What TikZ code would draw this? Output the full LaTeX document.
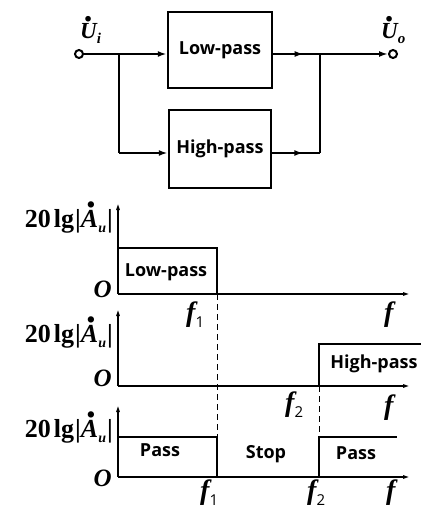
\documentclass[tikz,border=0pt]{standalone}
\usepackage{amsmath}
\usepackage{fontspec}
\setmainfont{Liberation Serif}
\newfontfamily\boxfont{Open Sans}
\usetikzlibrary{arrows.meta,decorations.markings}
% letter with a heavy dot above
\newcommand\dt[3][0pt]{\leavevmode\vbox{\offinterlineskip\halign{\hfil##\hfil\cr\kern#1\scalebox{1.5}{\bfseries .}\cr\noalign{\kern#2}#3\cr}}}
\newcommand\subsf[1]{\raisebox{-0.22em}{\boxfont\upshape\mdseries\fontsize{15}{15}\selectfont #1}}
\newcommand\ylab{{\bfseries 20\kern3pt lg\kern1pt|}\dt[3pt]{2pt}{\bfseries\itshape A}\raisebox{-0.2em}{\bfseries\itshape\fontsize{14}{14}\selectfont u}\kern1pt{\bfseries|}}
\begin{document}
\begin{tikzpicture}[x=1pt,y=-1pt,
  blk/.style={draw,line width=2.5pt,inner sep=0,font=\boxfont\bfseries\fontsize{18}{20}\selectfont},
  term/.style={circle,draw,line width=2pt,minimum size=8pt,inner sep=0,fill=white},
  wire/.style={line width=2.5pt},
  tip/.style={-{Latex[length=9pt,width=6pt]}},
  midarr/.style={postaction={decorate},decoration={markings,mark=at position #1 with {\arrow{Latex[length=9pt,width=6pt]}}}},
  lbl/.style={font=\boxfont\bfseries\fontsize{18}{20}\selectfont,inner sep=0},
  ulab/.style={font=\bfseries\itshape\fontsize{23}{24}\selectfont,inner sep=0,anchor=base west},
  flab/.style={font=\bfseries\itshape\fontsize{28}{30}\selectfont,inner sep=0,anchor=base west},
  olab/.style={font=\bfseries\itshape\fontsize{25}{26}\selectfont,inner sep=0,anchor=base east},
  ylabel/.style={font=\fontsize{26}{27}\selectfont,inner sep=0,anchor=base east},
  axis/.style={line width=2pt},
  axtip/.style={-{Latex[length=8pt,width=4pt]}},
  curve/.style={line width=2.8pt},
  dashline/.style={line width=1pt,dash pattern=on 6pt off 4pt}
]
\useasboundingbox (0,0) rectangle (421,508);
% ---- block diagram ----
\node[term] (ui) at (79,54) {};
\node[term] (uo) at (393,54) {};
\node[blk,minimum width=104pt,minimum height=76pt] (lp) at (220,50) {Low-pass};
\node[blk,minimum width=102pt,minimum height=78pt] (hp) at (220,149) {High-pass};
\coordinate (jl) at (119,54);
\coordinate (jr) at (320,54);
\coordinate (hj) at (320,153);
\coordinate (hjl) at (119,153);
\node[ulab] (uil) at (80,39) {\dt[2pt]{2pt}{U}\raisebox{-0.2em}{\fontsize{15}{15}\selectfont i}};
\node[ulab] (uol) at (381,39) {\dt[2pt]{2pt}{U}\raisebox{-0.2em}{\fontsize{15}{15}\selectfont o}};
\draw[wire] (ui) -- (jl);
\draw[wire,tip] (jl) -- (lp.west |- jl);
\draw[wire] (jl) -- (hjl);
\draw[wire,tip] (hjl) -- (hp.west |- hjl);
\draw[wire,midarr=0.65] (lp.east |- jr) -- (jr);
\draw[wire,midarr=0.65] (hp.east |- hj) -- (hj);
\draw[wire] (hj) -- (jr);
\draw[wire,tip] (jr) -- (uo);
% ---- plot 1 ----
\node[ylabel] (y1) at (113,227) {\ylab};
\draw[axis,axtip] (118,294) -- (118,202);
\draw[axis,axtip] (118,294) -- (411,294);
\draw[curve] (118,248) -- (217,248) -- (217,294);
\node[lbl] (t1) at (166,272) {Low-pass};
\node[olab] (o1) at (112,297) {O};
\node[flab] (f11) at (186,321) {f\subsf{1}};
\node[flab] (f1) at (384,321) {f};
% ---- plot 2 ----
\node[ylabel] (y2) at (113,342) {\ylab};
\draw[axis,axtip] (118,386) -- (118,308);
\draw[axis,axtip] (118,386) -- (411,386);
\draw[curve] (319,386) -- (319,344) -- (421,344);
\node[lbl] (t2) at (374,364) {High-pass};
\node[olab] (o2) at (112,386) {O};
\node[flab] (f22) at (285,411) {f\subsf{2}};
\node[flab] (f2) at (384,414) {f};
% ---- plot 3 ----
\node[ylabel] (y3) at (113,437) {\ylab};
\draw[axis,axtip] (118,477) -- (118,404);
\draw[axis,axtip] (118,477) -- (411,477);
\draw[curve] (118,437) -- (217,437) -- (217,477);
\draw[curve] (319,477) -- (319,437) -- (397,437);
\node[lbl] (t3a) at (160,450) {Pass};
\node[lbl] (t3b) at (266,454) {Stop};
\node[lbl] (t3c) at (356,453) {Pass};
\node[olab] (o3) at (112,486) {O};
\node[flab] (f31) at (200,499) {f\subsf{1}};
\node[flab] (f32) at (307,499) {f\subsf{2}};
\node[flab] (f3) at (386,499) {f};
% ---- dashed guides ----
\draw[dashline] (217,294) -- (217,437);
\draw[dashline] (319,386) -- (319,437);
\end{tikzpicture}
\end{document}
